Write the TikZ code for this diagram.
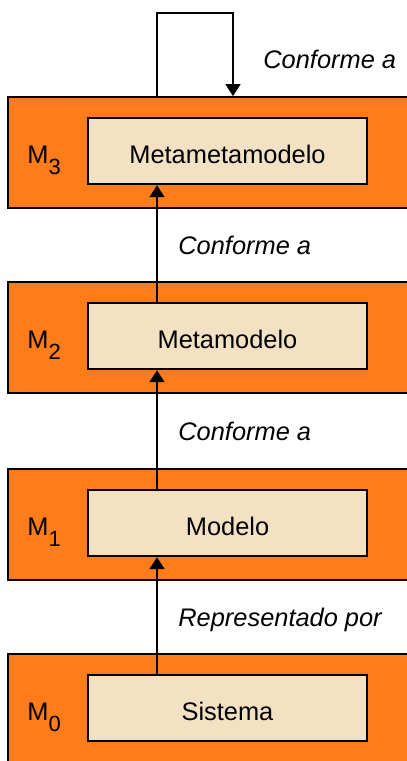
\documentclass[tikz,border=0pt]{standalone}
\usepackage{fontspec}
\setmainfont{Liberation Sans}
\usetikzlibrary{arrows.meta}

\definecolor{layerorange}{RGB}{254,124,25}
\definecolor{modelwheat}{RGB}{243,225,196}

\newcommand{\lvlsub}[1]{\raisebox{-5.8pt}{\fontsize{11}{12}\selectfont #1}}

\begin{document}
\begin{tikzpicture}[x=0.5pt, y=-0.5pt,
    layer/.style={draw=black, fill=layerorange, line width=0.9pt,
      minimum width=206pt, minimum height=55.5pt, inner sep=0pt},
    model/.style={draw=black, fill=modelwheat, line width=0.9pt,
      minimum width=139.5pt, minimum height=33pt, inner sep=0pt,
      text height=12pt, text depth=0pt,
      font=\fontsize{12.7}{15}\selectfont},
    level/.style={inner sep=0pt, anchor=base west, font=\fontsize{12.7}{15}\selectfont},
    rel/.style={inner sep=0pt, anchor=base west,
      font=\fontsize{12.7}{15}\selectfont\itshape},
    conn/.style={line width=0.85pt, -{Triangle[length=6pt, width=7.5pt]}}]

  \useasboundingbox (0,0) rectangle (407,761);
  \clip (0,0) rectangle (407,761);

  \coordinate (axis) at (157,0);
  \coordinate (looptop) at (233,13);

  % levels M3 .. M0
  \foreach \lvl/\yc/\ym/\al/\lab in {%
    3/152.5/151.3/mmm/Metametamodelo,%
    2/337.2/336.3/mm/Metamodelo,%
    1/524.5/523.3/m/Modelo,%
    0/709.5/708.3/sis/Sistema%
  }{
    \node[layer] (layer\lvl) at (214,\yc) {};
    \node[model] (\al) at (227.5,\ym) {\lab};
    \node[level] (lbl\lvl) at (27,\yc+10.8) {M\lvlsub{\lvl}};
  }

  \foreach \from/\to in {%
    sis/m, m/mm, mm/mmm%
  }{ \draw[conn] (\from.north -| axis) -- (\to.south -| axis); }

  \draw[conn] (layer3.north -| axis) |- (looptop) -- (layer3.north -| looptop);

  \node[rel] (rel3) at (263,68) {Conforme a};
  \node[rel] (rel2) at (178,254) {Conforme a};
  \node[rel] (rel1) at (178,440) {Conforme a};
  \node[rel] (rel0) at (178,626) {Representado por};
\end{tikzpicture}
\end{document}
